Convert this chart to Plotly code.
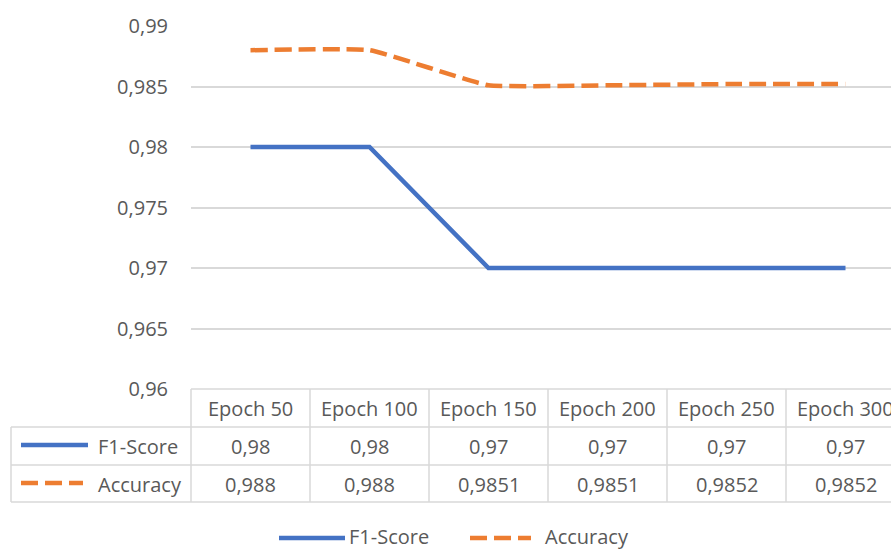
import plotly.graph_objects as go

# Data
epochs = ["Epoch 50", "Epoch 100", "Epoch 150", "Epoch 200", "Epoch 250", "Epoch 300"]
f1_score = [0.98, 0.98, 0.97, 0.97, 0.97, 0.97]
accuracy = [0.988, 0.988, 0.9851, 0.9851, 0.9852, 0.9852]
series_names = ["F1-Score", "Accuracy"]
y_ticks = [0.96, 0.965, 0.97, 0.975, 0.98, 0.985, 0.99]

W, H = 891, 550
BLUE = "#4472C4"
ORANGE = "#ED7D31"
GRID = "#D9D9D9"
TXT = "#595959"
FONT = "Open Sans"
FS = 20
DASH = "17px,7px"

# Plot area geometry (pixels)
plot_left, col_w = 191, 119
plot_top, plot_bottom = 26, 389
x_lo = -0.5
x_hi = x_lo + (W - plot_left) / col_w


def px(p):
    return p / W


def py(p):
    return 1 - p / H


def col_edge(i):
    # left edge of table column i, in pixels, from the x-axis scale
    return plot_left + (i - x_lo - 0.5) * col_w


fig = go.Figure()
xs = list(range(len(epochs)))
fig.add_trace(go.Scatter(x=xs, y=f1_score, name=series_names[0], mode="lines",
                         line=dict(color=BLUE, width=4.5), showlegend=False))
fig.add_trace(go.Scatter(x=xs, y=accuracy, name=series_names[1], mode="lines",
                         line=dict(color=ORANGE, width=4.5, dash=DASH, shape="spline", smoothing=0.35),
                         showlegend=False))

shapes = []
annotations = []
line_style = dict(color=GRID, width=1.5)

# Data table grid lines
row_y = [plot_bottom, 427, 465, 502]
shapes.append(dict(type="line", xref="paper", yref="paper", x0=px(plot_left), x1=1,
                   y0=py(row_y[0]), y1=py(row_y[0]), line=line_style))
for yy in row_y[1:]:
    shapes.append(dict(type="line", xref="paper", yref="paper", x0=px(11), x1=1,
                       y0=py(yy), y1=py(yy), line=line_style))
shapes.append(dict(type="line", xref="paper", yref="paper", x0=px(11), x1=px(11),
                   y0=py(row_y[1]), y1=py(row_y[3]), line=line_style))
for i in range(len(epochs) + 1):
    xe = col_edge(i)
    if xe <= W:
        shapes.append(dict(type="line", xref="paper", yref="paper", x0=px(xe), x1=px(xe),
                           y0=py(row_y[0]), y1=py(row_y[3]), line=line_style))

# Table text
text_font = dict(family=FONT, size=FS, color=TXT)
row_centers = [408, 446, 484]
for i, ep in enumerate(epochs):
    cx = px(col_edge(i) + col_w / 2)
    annotations.append(dict(x=cx, y=py(row_centers[0]), xref="paper", yref="paper", text=ep,
                            showarrow=False, font=text_font, xanchor="center", yanchor="middle"))
    annotations.append(dict(x=cx, y=py(row_centers[1]), xref="paper", yref="paper",
                            text=str(f1_score[i]).replace(".", ","), showarrow=False,
                            font=text_font, xanchor="center", yanchor="middle"))
    annotations.append(dict(x=cx, y=py(row_centers[2]), xref="paper", yref="paper",
                            text=str(accuracy[i]).replace(".", ","), showarrow=False,
                            font=text_font, xanchor="center", yanchor="middle"))

# Table row keys
shapes.append(dict(type="line", xref="paper", yref="paper", x0=px(21), x1=px(88),
                   y0=py(445), y1=py(445), line=dict(color=BLUE, width=4.5)))
shapes.append(dict(type="line", xref="paper", yref="paper", x0=px(21), x1=px(83),
                   y0=py(483), y1=py(483), line=dict(color=ORANGE, width=4.5, dash=DASH)))
for name, yc in zip(series_names, row_centers[1:]):
    annotations.append(dict(x=px(96), y=py(yc), xref="paper", yref="paper", text=name,
                            showarrow=False, font=text_font, xanchor="left", yanchor="middle"))

# Bottom legend
shapes.append(dict(type="line", xref="paper", yref="paper", x0=px(279), x1=px(345),
                   y0=py(538), y1=py(538), line=dict(color=BLUE, width=4.5)))
shapes.append(dict(type="line", xref="paper", yref="paper", x0=px(470), x1=px(531),
                   y0=py(538), y1=py(538), line=dict(color=ORANGE, width=4.5, dash=DASH)))
annotations.append(dict(x=px(348), y=py(536), xref="paper", yref="paper", text=series_names[0],
                        showarrow=False, font=text_font, xanchor="left", yanchor="middle",
                        borderpad=0))
annotations.append(dict(x=px(544), y=py(536), xref="paper", yref="paper", text=series_names[1],
                        showarrow=False, font=text_font, xanchor="left", yanchor="middle",
                        borderpad=0))

fig.update_layout(
    width=W, height=H,
    margin=dict(l=0, r=0, t=0, b=0, pad=0),
    paper_bgcolor="white", plot_bgcolor="white",
    separators=", ",
    font=dict(family=FONT, size=FS, color=TXT),
    showlegend=False,
    xaxis=dict(domain=[px(plot_left), 1], range=[x_lo, x_hi], showticklabels=False,
               showgrid=False, zeroline=False, showline=False, ticks="", automargin=False),
    yaxis=dict(domain=[py(plot_bottom), py(plot_top)], range=[0.96, 0.99],
               tickvals=y_ticks, ticktext=[str(v).replace(".", ",") for v in y_ticks],
               showgrid=True, gridcolor=GRID, gridwidth=1.5, zeroline=False, showline=False,
               ticks="outside", ticklen=18, tickcolor="rgba(0,0,0,0)", automargin=False,
               tickfont=dict(family=FONT, size=FS, color=TXT)),
    shapes=shapes,
    annotations=annotations,
)

fig.write_html("out.html")
